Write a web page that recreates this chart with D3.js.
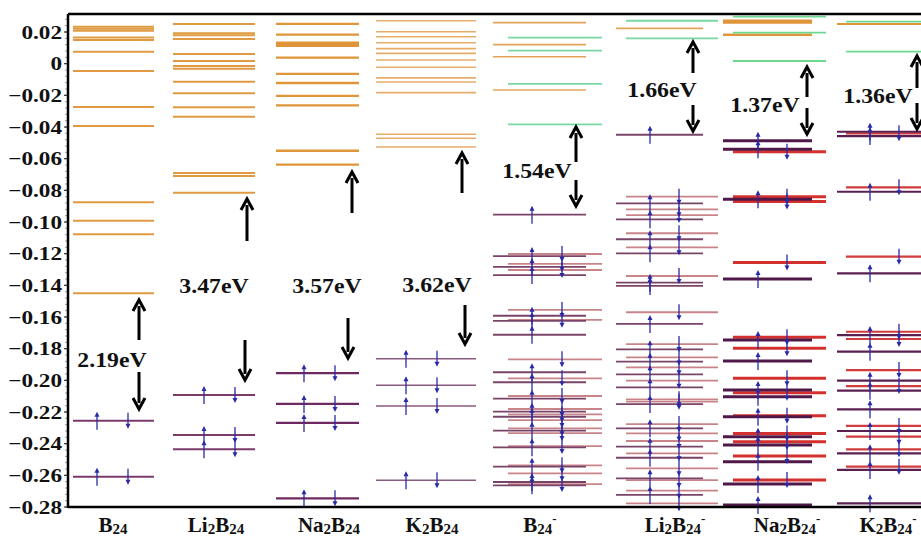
<!DOCTYPE html>
<html>
<head>
<meta charset="utf-8">
<script src="https://cdn.jsdelivr.net/npm/d3@7"></script>
<style>
body { margin: 0; background: #fff; }
text { font-family: "Liberation Serif", "Times New Roman", serif; font-weight: bold; fill: #111; }
</style>
</head>
<body>
<svg id="chart" width="921" height="539"></svg>
<script>
// ---- data (energies in Hartree) ----
var categories = ["B24", "Li2B24", "Na2B24", "K2B24", "B24-", "Li2B24-", "Na2B24-", "K2B24-"];
var gapLabels = ["2.19eV", "3.47eV", "3.57eV", "3.62eV", "1.54eV", "1.66eV", "1.37eV", "1.36eV"];
var yTicks = [0.02, 0, -0.02, -0.04, -0.06, -0.08, -0.10, -0.12, -0.14, -0.16, -0.18, -0.20, -0.22, -0.24, -0.26, -0.28];

// neutral clusters: empty and filled levels
var virtB24 = [0.0233, 0.0221, 0.0208, 0.0166, 0.0149, 0.0076, -0.0046, -0.0274, -0.0394, -0.0876, -0.0992, -0.1078, -0.1450];
var occB24 = [-0.2255, -0.2609];
var virtLi2B24 = [0.0251, 0.0192, 0.0179, 0.0156, 0.0061, 0.0017, -0.0015, -0.0032, -0.0114, -0.0187, -0.0276, -0.0335, -0.0690, -0.0709, -0.0815];
var occLi2B24 = [-0.2092, -0.2345, -0.2435];
var virtNa2B24 = [0.0251, 0.0183, 0.0132, 0.0122, 0.0112, 0.0038, -0.0065, -0.0122, -0.0204, -0.0263, -0.0550, -0.0638];
var occNa2B24 = [-0.1955, -0.2149, -0.2269, -0.2745];
var virtK2B24 = [0.0271, 0.0202, 0.0170, 0.0132, 0.0095, 0.0065, 0.0023, -0.0023, -0.0090, -0.0116, -0.0183, -0.0446, -0.0471, -0.0526];
var occK2B24 = [-0.1863, -0.2031, -0.2162, -0.2631];

// anions: alpha / beta spin levels
var virtAlphaB24m = [0.0259, 0.0120, 0.0044, -0.0166];
var virtBetaB24m = [0.0164, 0.0082, -0.0128, -0.0383];
var occAlphaB24m = [-0.0954, -0.1215, -0.1284, -0.1335, -0.1592, -0.1625, -0.1712, -0.1949, -0.2012, -0.2116, -0.2198, -0.2230, -0.2318, -0.2423, -0.2545, -0.2642, -0.2663];
var occBetaB24m = [-0.1202, -0.1265, -0.1303, -0.1555, -0.1618, -0.1867, -0.1987, -0.2099, -0.2181, -0.2215, -0.2251, -0.2303, -0.2333, -0.2415, -0.2537, -0.2587, -0.2655];

var virtAlphaLi2B24m = [0.0223];
var virtBetaLi2B24m = [0.0271, 0.0160];
var occAlphaLi2B24m = [-0.0449, -0.0882, -0.0983, -0.1109, -0.1198, -0.1383, -0.1404, -0.1644, -0.1804, -0.1882, -0.1962, -0.2044, -0.2150, -0.2303, -0.2419, -0.2489, -0.2619, -0.2724];
var occBetaLi2B24m = [-0.0840, -0.0920, -0.0956, -0.1071, -0.1160, -0.1341, -0.1570, -0.1771, -0.1855, -0.1918, -0.2002, -0.2120, -0.2135, -0.2276, -0.2335, -0.2383, -0.2461, -0.2556, -0.2630, -0.2697, -0.2777];

var virtAlphaNa2B24m = [0.0271, 0.0259, 0.0183];
var virtBetaNa2B24m = [0.0297, 0.0196, 0.0017];
var occAlphaNa2B24m = [-0.0487, -0.0541, -0.0857, -0.1360, -0.1745, -0.1878, -0.2061, -0.2103, -0.2230, -0.2356, -0.2408, -0.2514, -0.2655, -0.2787];
var occBetaNa2B24m = [-0.0556, -0.0840, -0.0870, -0.1255, -0.1728, -0.1798, -0.1987, -0.2078, -0.2223, -0.2335, -0.2388, -0.2478, -0.2630];

var virtAlphaK2B24m = [0.0251];
var virtBetaK2B24m = [0.0265, 0.0076];
var occAlphaK2B24m = [-0.0430, -0.0457, -0.0809, -0.1324, -0.1714, -0.1819, -0.2002, -0.2065, -0.2183, -0.2320, -0.2461, -0.2566, -0.2777];
var occBetaK2B24m = [-0.0440, -0.0781, -0.1219, -0.1693, -0.1739, -0.1935, -0.2036, -0.2288, -0.2356, -0.2436, -0.2545];

var columns = [
    {virtA: virtB24, virtB: [], occA: occB24, occB: occB24},
    {virtA: virtLi2B24, virtB: [], occA: occLi2B24, occB: occLi2B24},
    {virtA: virtNa2B24, virtB: [], occA: occNa2B24, occB: occNa2B24},
    {virtA: virtK2B24, virtB: [], occA: occK2B24, occB: occK2B24},
    {virtA: virtAlphaB24m, virtB: virtBetaB24m, occA: occAlphaB24m, occB: occBetaB24m},
    {virtA: virtAlphaLi2B24m, virtB: virtBetaLi2B24m, occA: occAlphaLi2B24m, occB: occBetaLi2B24m},
    {virtA: virtAlphaNa2B24m, virtB: virtBetaNa2B24m, occA: occAlphaNa2B24m, occB: occBetaNa2B24m},
    {virtA: virtAlphaK2B24m, virtB: virtBetaK2B24m, occA: occAlphaK2B24m, occB: occBetaK2B24m}
];

// ---- layout ----
var plot = {left: 68, top: 14, bottom: 507, right: 921};
// per column: alpha line span, beta line span, electron arrow x's, styles
var colLayout = [
    {a0: 73, a1: 154, b0: 73, b1: 154, up: 97, dn: 128, virt: "#e09a42", vw: 2, occA: "#7c3a6c", occB: "#7c3a6c", ow: 2},
    {a0: 173, a1: 255, b0: 173, b1: 255, up: 204, dn: 235, virt: "#e09a42", vw: 2, occA: "#7c3a6c", occB: "#7c3a6c", ow: 2},
    {a0: 276, a1: 359, b0: 276, b1: 359, up: 304, dn: 335, virt: "#e0953a", vw: 2.3, occA: "#6e2a60", occB: "#6e2a60", ow: 2.2},
    {a0: 376, a1: 476, b0: 376, b1: 476, up: 406, dn: 437, virt: "#e6ad6a", vw: 1.6, occA: "#8a5a80", occB: "#8a5a80", ow: 1.5},
    {a0: 493, a1: 586, b0: 508, b1: 602, up: 532, dn: 562, virt: "#e3a458", vw: 1.6, virtB: "#78d8a2", occA: "#7a4468", occB: "#c98489", ow: 1.8},
    {a0: 616, a1: 703, b0: 626, b1: 718, up: 650, dn: 679, virt: "#e3a458", vw: 1.6, virtB: "#78d8a2", occA: "#7a4468", occB: "#c98489", ow: 1.8},
    {a0: 723, a1: 812, b0: 733, b1: 826, up: 758, dn: 787, virt: "#e0953a", vw: 2.4, virtB: "#6fd890", occA: "#501848", occB: "#d4302e", ow: 3},
    {a0: 837, a1: 930, b0: 846, b1: 940, up: 870, dn: 899, virt: "#e0953a", vw: 2, virtB: "#6fd890", occA: "#5a2050", occB: "#d23c3c", ow: 2.2}
];
// gap annotations: label centre/baseline, up arrow, down arrow (pixels)
var gapLayout = [
    {tx: 112, ty: 367, ux: 139, u0: 340, u1: 300, dx: 139, d0: 372, d1: 409},
    {tx: 214, ty: 293, ux: 247, u0: 241, u1: 199, dx: 245, d0: 340, d1: 380},
    {tx: 327, ty: 293, ux: 352, u0: 213, u1: 172, dx: 348, d0: 318, d1: 358},
    {tx: 437, ty: 292, ux: 462, u0: 193, u1: 153, dx: 465, d0: 305, d1: 344},
    {tx: 537, ty: 178, ux: 576, u0: 162, u1: 127, dx: 576, d0: 180, d1: 206},
    {tx: 662, ty: 97, ux: 693, u0: 73, u1: 42, dx: 693, d0: 105, d1: 131},
    {tx: 765, ty: 112, ux: 807, u0: 97, u1: 67, dx: 807, d0: 108, d1: 134},
    {tx: 878, ty: 103, ux: 917, u0: 88, u1: 56, dx: 917, d0: 103, d1: 129}
];
var labelX = [113, 216, 329, 432, 540, 675, 787, 888];

var svg = d3.select("#chart");

var y = d3.scaleLinear()
    .domain([-0.28, 0.02])
    .range([plot.bottom, 32]);

var colIndex = d3.scaleOrdinal()
    .domain(categories)
    .range(d3.range(categories.length));

function stretch(sel, k) {
    sel.each(function() {
        var w = this.getComputedTextLength();
        d3.select(this).attr("textLength", w * k).attr("lengthAdjust", "spacingAndGlyphs");
    });
}

// ---- energy levels ----
var gLevels = svg.append("g").attr("class", "levels");

categories.forEach(function(cat) {
    var i = colIndex(cat);
    var c = columns[i];
    var L = colLayout[i];
    var g = gLevels.append("g").attr("class", "col");

    // unoccupied alpha (orange)
    g.selectAll(".va").data(c.virtA).enter().append("line")
        .attr("x1", L.a0).attr("x2", L.a1)
        .attr("y1", function(d) { return y(d); })
        .attr("y2", function(d) { return y(d); })
        .style("stroke", L.virt).style("stroke-width", L.vw);
    // unoccupied beta (green)
    g.selectAll(".vb").data(c.virtB).enter().append("line")
        .attr("x1", L.b0).attr("x2", L.b1)
        .attr("y1", function(d) { return y(d); })
        .attr("y2", function(d) { return y(d); })
        .style("stroke", L.virtB).style("stroke-width", 1.8);

    var neutral = c.occA === c.occB;
    // occupied beta first so alpha sits on top
    if (!neutral) {
        g.selectAll(".ob").data(c.occB).enter().append("line")
            .attr("x1", L.b0).attr("x2", L.b1)
            .attr("y1", function(d) { return y(d); })
            .attr("y2", function(d) { return y(d); })
            .style("stroke", L.occB).style("stroke-width", L.ow);
    }
    g.selectAll(".oa").data(c.occA).enter().append("line")
        .attr("x1", L.a0).attr("x2", L.a1)
        .attr("y1", function(d) { return y(d); })
        .attr("y2", function(d) { return y(d); })
        .style("stroke", L.occA).style("stroke-width", L.ow);

    // electrons
    var blue = "#2a2aa8";
    g.selectAll(".eu").data(c.occA).enter().append("path")
        .attr("d", function(d) {
            var yy = y(d);
            return "M" + L.up + "," + (yy + 9) + "V" + (yy - 6);
        })
        .style("stroke", blue).style("stroke-width", 1.3).style("fill", "none");
    g.selectAll(".eua").data(c.occA).enter().append("path")
        .attr("d", function(d) {
            var yy = y(d);
            return "M" + (L.up - 2.5) + "," + (yy - 4) + "L" + L.up + "," + (yy - 9) + "L" + (L.up + 2.5) + "," + (yy - 4) + "Z";
        })
        .style("fill", blue);
    g.selectAll(".ed").data(c.occB).enter().append("path")
        .attr("d", function(d) {
            var yy = y(d);
            return "M" + L.dn + "," + (yy - 8) + "V" + (yy + 5);
        })
        .style("stroke", blue).style("stroke-width", 1.3).style("fill", "none");
    g.selectAll(".eda").data(c.occB).enter().append("path")
        .attr("d", function(d) {
            var yy = y(d);
            return "M" + (L.dn - 2.5) + "," + (yy + 3) + "L" + L.dn + "," + (yy + 8) + "L" + (L.dn + 2.5) + "," + (yy + 3) + "Z";
        })
        .style("fill", blue);
});

// ---- axes / frame ----
var gAxis = svg.append("g").attr("class", "axes");

var minor = d3.range(-0.28, 0.0301, 0.004);
gAxis.selectAll(".minor").data(minor).enter().append("line")
    .attr("x1", plot.left - 3).attr("x2", plot.left)
    .attr("y1", function(d) { return y(d); })
    .attr("y2", function(d) { return y(d); })
    .style("stroke", "#999").style("stroke-width", 1);

gAxis.selectAll(".major").data(yTicks).enter().append("line")
    .attr("x1", plot.left - 4).attr("x2", plot.left)
    .attr("y1", function(d) { return y(d); })
    .attr("y2", function(d) { return y(d); })
    .style("stroke", "#333").style("stroke-width", 1.2);

var tickLabels = gAxis.selectAll(".tl").data(yTicks).enter().append("text")
    .attr("x", plot.left - 6)
    .attr("y", function(d) { return y(d) + 6.5; })
    .style("text-anchor", "end")
    .style("font-size", "19px")
    .text(function(d) { return d === 0 ? "0" : d3.format(".2f")(d); });
stretch(tickLabels, 1.22);

gAxis.append("line").attr("x1", plot.left).attr("x2", plot.left)
    .attr("y1", plot.top).attr("y2", plot.bottom + 1)
    .style("stroke", "#000").style("stroke-width", 2.5);
gAxis.append("line").attr("x1", plot.left).attr("x2", plot.right)
    .attr("y1", plot.top).attr("y2", plot.top)
    .style("stroke", "#000").style("stroke-width", 2.5);
gAxis.append("line").attr("x1", plot.left).attr("x2", plot.right)
    .attr("y1", plot.bottom).attr("y2", plot.bottom)
    .style("stroke", "#000").style("stroke-width", 2.5);

// ---- category labels (with sub/superscripts) ----
var gLab = svg.append("g").attr("class", "cat-labels");
categories.forEach(function(cat, i) {
    var t = gLab.append("text")
        .attr("x", labelX[i]).attr("y", 532)
        .style("text-anchor", "middle")
        .style("font-size", "21px");
    var parts = cat.match(/[A-Z][a-z]?|\d+|-/g);
    var shift = 0; // current baseline offset
    parts.forEach(function(p) {
        var target = /\d/.test(p) ? 2 : (p === "-" ? -9 : 0);
        var size = /\d/.test(p) ? "15px" : (p === "-" ? "13px" : "21px");
        t.append("tspan").attr("dy", target - shift).style("font-size", size).text(p);
        shift = target;
    });
});

// ---- gap annotations ----
var gGap = svg.append("g").attr("class", "gaps");
function bigArrow(x, y0, y1) {
    var dir = y1 < y0 ? 1 : -1;
    gGap.append("line")
        .attr("x1", x).attr("x2", x)
        .attr("y1", y0).attr("y2", y1 + dir * 6)
        .style("stroke", "#000").style("stroke-width", 3);
    gGap.append("path")
        .attr("d", "M" + (x - 6) + "," + (y1 + dir * 11) + "L" + x + "," + y1 + "L" + (x + 6) + "," + (y1 + dir * 11))
        .style("fill", "none").style("stroke", "#000").style("stroke-width", 3)
        .style("stroke-linejoin", "miter");
}
gapLabels.forEach(function(lab, i) {
    var G = gapLayout[i];
    var t = gGap.append("text")
        .attr("x", G.tx).attr("y", G.ty)
        .style("text-anchor", "middle")
        .style("font-size", "22px")
        .text(lab);
    stretch(t, 1.08);
    bigArrow(G.ux, G.u0, G.u1);
    bigArrow(G.dx, G.d0, G.d1);
});
</script>
</body>
</html>
